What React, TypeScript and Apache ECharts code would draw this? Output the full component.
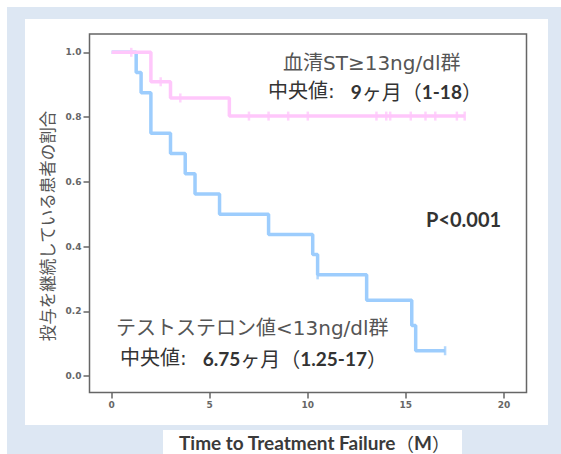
import React, { useEffect, useRef } from "react";
import * as echarts from "echarts";

// ---- data ----
const xTicks = [0, 5, 10, 15, 20];
const yTicks = [0, 0.2, 0.4, 0.6, 0.8, 1.0];

// テストステロン値<13ng/dl群 (blue)
const lowTimes = [0, 1.25, 1.5, 2, 3, 3.75, 4.25, 5.5, 8, 10.25, 10.5, 13, 15.3, 15.5, 17];
const lowSurv = [1, 0.9375, 0.875, 0.75, 0.6875, 0.625, 0.5625, 0.5, 0.4375, 0.375, 0.3125, 0.234, 0.156, 0.078, 0.078];
const lowCensorTimes = [10.5, 17];
const lowCensorSurv = [0.3125, 0.078];

// 血清ST≥13ng/dl群 (pink)
const highTimes = [0, 2, 3, 6, 18];
const highSurv = [1, 0.909, 0.859, 0.803, 0.803];
const highCensorTimes = [1, 2.5, 3.5, 7, 8, 9, 10, 13.5, 14, 14.2, 15.25, 16, 16.5, 17.6, 18];
const highCensorSurv = [1, 0.909, 0.859, 0.803, 0.803, 0.803, 0.803, 0.803, 0.803, 0.803, 0.803, 0.803, 0.803, 0.803, 0.803];

// ---- texts ----
const yTitle = "投与を継続している患者の割合";
const xTitle = "Time to Treatment Failure";
const highLabel = "血清ST≥13ng/dl群";
const lowLabel = "テストステロン値<13ng/dl群";
const pText = "P<0.001";
const highMedian = "9";
const highRange = "1-18";
const lowMedian = "6.75";
const lowRange = "1.25-17";

const BLUE = "#9dcdfd";
const PINK = "#ffc7fb";
const WIDE = '"DejaVu Sans", "Noto Sans CJK JP", sans-serif';
const CJK = '"Noto Sans CJK JP", sans-serif';
const BOLD = 'Lato, "Noto Sans", sans-serif';

export default function App() {
  const ref = useRef<HTMLDivElement>(null);
  useEffect(() => {
    if (!ref.current) return;
    const chart = echarts.init(ref.current, undefined, { renderer: "svg" });
    const richMed = {
      r: { fontFamily: WIDE, fontSize: 20, fill: "#333", color: "#333", padding: [0, 16, 0, 0] },
      c: { fontFamily: CJK, fontSize: 20, fill: "#333", color: "#333" },
      b: { fontFamily: BOLD, fontWeight: "bold", fontSize: 19, fill: "#333", color: "#333" },
    };
    const axisLabelStyle = {
      fontSize: 9,
      fontWeight: "bold" as const,
      color: "#666",
      fontFamily: '"DejaVu Sans", sans-serif',
    };
    const medianText = (m: string, r: string) =>
      "{r|中央値:}{b|" + m + "}{c|ヶ月（}{b|" + r + "}{c|）}";
    chart.setOption({
      animation: false,
      grid: {
        left: 89.5,
        top: 34,
        width: 437,
        height: 358.5,
        show: true,
        borderColor: "#666",
        borderWidth: 1.5,
        backgroundColor: "transparent",
        z: 2,
      },
      xAxis: {
        type: "value",
        min: -1.13,
        max: 21.15,
        axisLine: { show: false, onZero: false },
        splitLine: { show: false },
        axisTick: {
          show: true,
          length: 6,
          lineStyle: { color: "#666", width: 1.5 },
          customValues: xTicks,
        },
        axisLabel: { ...axisLabelStyle, margin: 8, customValues: xTicks },
      },
      yAxis: {
        type: "value",
        min: -0.051,
        max: 1.0566,
        axisLine: { show: false, onZero: false },
        splitLine: { show: false },
        axisTick: {
          show: true,
          length: 6,
          lineStyle: { color: "#666", width: 1.5 },
          customValues: yTicks,
        },
        axisLabel: {
          ...axisLabelStyle,
          margin: 8,
          customValues: yTicks,
          formatter: (v: number) => v.toFixed(1),
        },
      },
      series: [
        {
          type: "line",
          step: "end",
          data: lowTimes.map((t, i) => [t, lowSurv[i]]),
          symbol: "none",
          showSymbol: false,
          lineStyle: { color: BLUE, width: 3.5 },
          z: 3,
        },
        {
          type: "line",
          step: "end",
          data: highTimes.map((t, i) => [t, highSurv[i]]),
          symbol: "none",
          showSymbol: false,
          lineStyle: { color: PINK, width: 3.5 },
          z: 4,
        },
        {
          type: "scatter",
          data: lowCensorTimes.map((t, i) => [t, lowCensorSurv[i]]),
          symbol: "rect",
          symbolSize: [2.5, 9],
          itemStyle: { color: BLUE },
          z: 5,
        },
        {
          type: "scatter",
          data: highCensorTimes.map((t, i) => [t, highCensorSurv[i]]),
          symbol: "rect",
          symbolSize: [2.5, 9],
          itemStyle: { color: PINK },
          z: 5,
        },
      ],
      graphic: [
        { type: "rect", z: -10, shape: { x: 7, y: 7, width: 554, height: 447 }, style: { fill: "#dde7f3" } },
        { type: "rect", z: -9, shape: { x: 25, y: 19, width: 523, height: 406 }, style: { fill: "#ffffff" } },
        { type: "rect", z: -9, shape: { x: 163, y: 430, width: 299, height: 24 }, style: { fill: "#ffffff" } },
        {
          type: "text",
          z: 100,
          x: 47,
          y: 226,
          rotation: Math.PI / 2,
          style: {
            text: yTitle,
            fontFamily: CJK,
            fontSize: 16.5,
            fill: "#555",
            textAlign: "center",
            textVerticalAlign: "middle",
            verticalAlign: "middle",
          },
        },
        {
          type: "text",
          z: 100,
          x: 283,
          y: 63,
          style: {
            text: highLabel,
            fontFamily: WIDE,
            fontSize: 20,
            fill: "#555",
            textAlign: "left",
            textVerticalAlign: "middle",
            verticalAlign: "middle",
          },
        },
        {
          type: "text",
          z: 100,
          x: 268,
          y: 91,
          style: {
            text: medianText(highMedian, highRange),
            rich: richMed,
            textAlign: "left",
            textVerticalAlign: "middle",
            verticalAlign: "middle",
          },
        },
        {
          type: "text",
          z: 100,
          x: 426,
          y: 219,
          style: {
            text: pText,
            fontFamily: BOLD,
            fontWeight: "bold",
            fontSize: 20,
            fill: "#333",
            textAlign: "left",
            textVerticalAlign: "middle",
            verticalAlign: "middle",
          },
        },
        {
          type: "text",
          z: 100,
          x: 116,
          y: 328,
          style: {
            text: lowLabel,
            fontFamily: WIDE,
            fontSize: 20,
            fill: "#555",
            textAlign: "left",
            textVerticalAlign: "middle",
            verticalAlign: "middle",
          },
        },
        {
          type: "text",
          z: 100,
          x: 120,
          y: 358,
          style: {
            text: medianText(lowMedian, lowRange),
            rich: richMed,
            textAlign: "left",
            textVerticalAlign: "middle",
            verticalAlign: "middle",
          },
        },
        {
          type: "text",
          z: 100,
          x: 179,
          y: 442.5,
          style: {
            text: "{t|" + xTitle + "}{p|（}{t|M}{p|）}",
            rich: {
              t: { fontFamily: BOLD, fontWeight: "bold", fontSize: 19, fill: "#3a3a3a", color: "#3a3a3a" },
              p: { fontFamily: CJK, fontSize: 18, fill: "#3a3a3a", color: "#3a3a3a" },
            },
            textAlign: "left",
            textVerticalAlign: "middle",
            verticalAlign: "middle",
          },
        },
      ],
    });
    return () => chart.dispose();
  }, []);
  return (
    <div
      ref={ref}
      style={{ position: "absolute", left: 0, top: 0, width: 561, height: 454 }}
    />
  );
}
